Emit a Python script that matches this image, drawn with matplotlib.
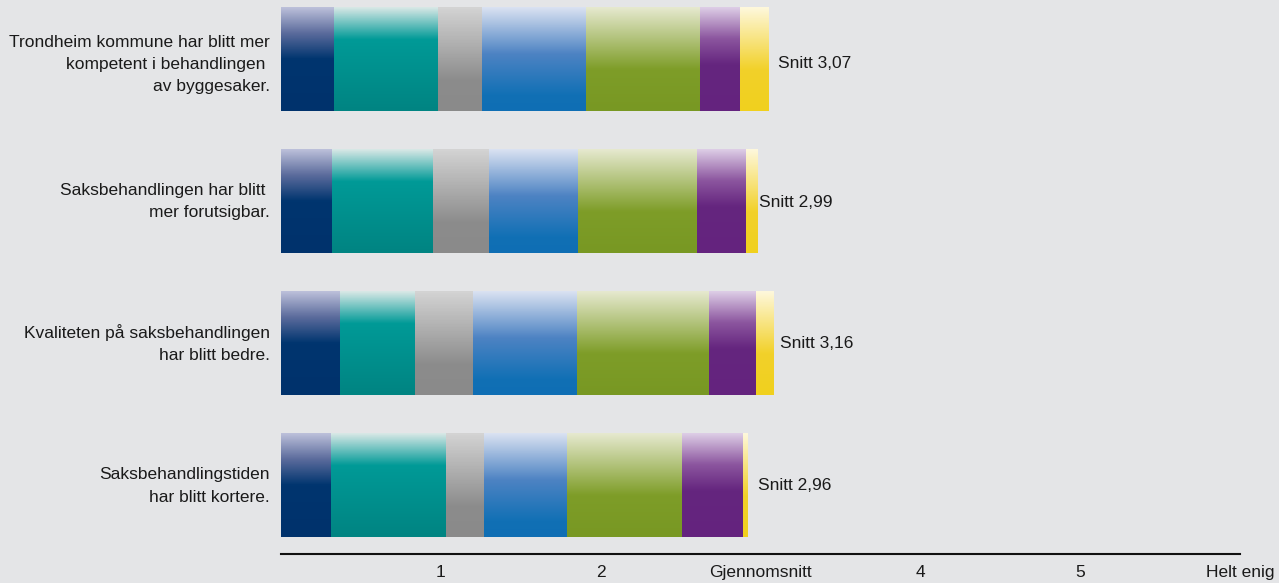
"""Stacked horizontal bars with vertical gradients, Trondheim survey chart."""
import numpy as np
import matplotlib
matplotlib.use("Agg")
import matplotlib.pyplot as plt
from matplotlib.colors import LinearSegmentedColormap

# --- data ---------------------------------------------------------------
statements = [
    "Trondheim kommune har blitt mer\nkompetent i behandlingen \nav byggesaker.",
    "Saksbehandlingen har blitt \nmer forutsigbar.",
    "Kvaliteten på saksbehandlingen\nhar blitt bedre.",
    "Saksbehandlingstiden\nhar blitt kortere.",
]
averages = ["3,07", "2,99", "3,16", "2,96"]

# segment widths per statement, on the 0-6 answer scale
seg_navy = [0.33, 0.32, 0.37, 0.31]
seg_teal = [0.65, 0.63, 0.47, 0.72]
seg_gray = [0.28, 0.35, 0.36, 0.24]
seg_blue = [0.65, 0.56, 0.65, 0.52]
seg_green = [0.71, 0.74, 0.83, 0.72]
seg_purple = [0.25, 0.31, 0.29, 0.38]
seg_yellow = [0.18, 0.07, 0.11, 0.03]

tick_pos = [1, 2, 3, 4, 5, 6]
tick_labels = ["1", "2", "Gjennomsnitt", "4", "5", "Helt enig"]

# --- style --------------------------------------------------------------
BG = "#e4e5e7"
TXT = "#1a1a1a"
# gradient stops (fraction of bar height from top, colour)
gradients = [
    [(0.0, "#bcc0da"), (0.25, "#5b6b9c"), (0.5, "#00356f"), (1.0, "#00326c")],
    [(0.0, "#d8e8e6"), (0.31, "#009a97"), (1.0, "#008482")],
    [(0.0, "#d4d4d4"), (0.7, "#8c8c8c"), (1.0, "#8a8a8a")],
    [(0.0, "#dae2f2"), (0.45, "#4d83c3"), (0.85, "#1170b5"), (1.0, "#0f6eb4")],
    [(0.0, "#e6e9cf"), (0.6, "#7e9d28"), (1.0, "#789823")],
    [(0.0, "#ddcde6"), (0.3, "#8c569f"), (0.55, "#65267f"), (1.0, "#64237e")],
    [(0.0, "#fef8dc"), (0.6, "#f2d12a"), (1.0, "#f0d01e")],
]

plt.rcParams["font.family"] = ["Liberation Sans", "DejaVu Sans"]
FS = 12.5


def gradient_image(stops, n=200):
    cmap = LinearSegmentedColormap.from_list("g", stops)
    vals = np.linspace(0, 1, n)
    return cmap(vals)[:, np.newaxis, :3]


fig = plt.figure(figsize=(12.79, 5.83), dpi=100, facecolor=BG)
ax = fig.add_axes([281 / 1279, 1 - 554 / 583, 959 / 1279, 554 / 583])
ax.set_facecolor(BG)

segments = [seg_navy, seg_teal, seg_gray, seg_blue, seg_green, seg_purple, seg_yellow]
images = [gradient_image(g) for g in gradients]
bar_h = 0.725
n = len(statements)
label_offsets = [(10, -4), (2, -1), (7, 0), (10, 0)]  # px shift of "Snitt" labels
text_drop = [-0.035, 0.0, 0.0, 0.0]  # small vertical nudge for statement text

for i in range(n):
    y = n - 1 - i
    left = 0.0
    for seg, img in zip(segments, images):
        w = seg[i]
        ax.imshow(img, extent=(left, left + w, y - bar_h / 2, y + bar_h / 2),
                  origin="upper", aspect="auto", interpolation="bilinear")
        left += w
    dx, dy = label_offsets[i]
    ax.annotate(f"Snitt {averages[i]}", (left, y), xytext=(dx * 0.72, dy * 0.72),
                textcoords="offset points", va="center", ha="left", fontsize=FS,
                color=TXT)
    ax.text(-0.07, y + text_drop[i], statements[i], ha="right", va="center",
            fontsize=FS, color=TXT, linespacing=1.6)

ax.set_xlim(0, 6)
ax.set_ylim(-0.479, n - 1 + 0.419)
ax.set_xticks(tick_pos)
ax.set_xticklabels(tick_labels, fontsize=FS, color=TXT)
ax.tick_params(axis="x", length=0, pad=8)
ax.set_yticks([])
for side in ("top", "right", "left"):
    ax.spines[side].set_visible(False)
ax.spines["bottom"].set_linewidth(1.5)
ax.spines["bottom"].set_color("#111111")

fig.savefig("out.png", dpi=100, facecolor=BG)
